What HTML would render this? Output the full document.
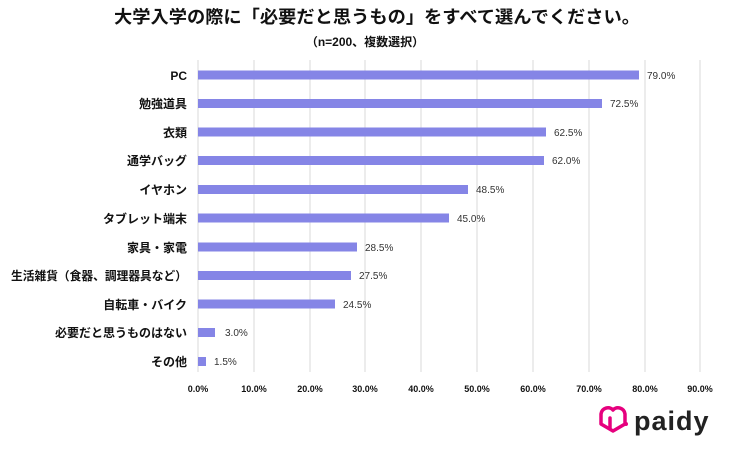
<!DOCTYPE html>
<html><head><meta charset="utf-8"><style>
body{margin:0;background:#fff;width:748px;height:450px;overflow:hidden;font-family:"Liberation Sans","Noto Sans CJK JP",sans-serif;}
</style></head><body>
<svg width="748" height="450" xmlns="http://www.w3.org/2000/svg" font-family="Liberation Sans, Noto Sans CJK JP, sans-serif">
<text x="377" y="23" text-anchor="middle" font-size="17.5" font-weight="bold" fill="#111" textLength="526" lengthAdjust="spacingAndGlyphs">大学入学の際に「必要だと思うもの」をすべて選んでください。</text>
<text x="365" y="46" text-anchor="middle" font-size="12" font-weight="bold" fill="#111">（n=200、複数選択）</text>
<g stroke="#d9d9d9" stroke-width="1">
<line x1="198" y1="60" x2="198" y2="372"/><line x1="254" y1="60" x2="254" y2="372"/><line x1="310" y1="60" x2="310" y2="372"/><line x1="365" y1="60" x2="365" y2="372"/><line x1="421" y1="60" x2="421" y2="372"/><line x1="477" y1="60" x2="477" y2="372"/><line x1="533" y1="60" x2="533" y2="372"/><line x1="589" y1="60" x2="589" y2="372"/><line x1="645" y1="60" x2="645" y2="372"/><line x1="700" y1="60" x2="700" y2="372"/>
</g>
<g fill="#8585e6">
<rect x="198" y="70.5" width="441" height="9"/>
<rect x="198" y="99" width="404" height="9"/>
<rect x="198" y="127.5" width="348" height="9"/>
<rect x="198" y="156" width="346" height="9"/>
<rect x="198" y="185" width="270" height="9"/>
<rect x="198" y="213.5" width="251" height="9"/>
<rect x="198" y="242.5" width="159" height="9"/>
<rect x="198" y="271" width="153" height="9"/>
<rect x="198" y="299.5" width="137" height="9"/>
<rect x="198" y="328" width="17" height="9"/>
<rect x="198" y="357" width="8" height="9"/>
</g>
<g font-size="10" fill="#333">
<text x="647" y="79">79.0%</text><text x="610" y="107">72.5%</text><text x="554" y="136">62.5%</text><text x="552" y="164">62.0%</text><text x="476" y="193">48.5%</text><text x="457" y="222">45.0%</text><text x="365" y="251">28.5%</text><text x="359" y="279">27.5%</text><text x="343" y="308">24.5%</text><text x="225" y="336">3.0%</text><text x="214" y="365">1.5%</text>
</g>
<g font-size="12" font-weight="bold" fill="#111" text-anchor="end">
<text x="187" y="80">PC</text><text x="187" y="108">勉強道具</text><text x="187" y="137">衣類</text><text x="187" y="165">通学バッグ</text><text x="187" y="194">イヤホン</text><text x="187" y="223">タブレット端末</text><text x="187" y="252">家具・家電</text><text x="187" y="280" textLength="176" lengthAdjust="spacingAndGlyphs">生活雑貨（食器、調理器具など）</text><text x="187" y="309">自転車・バイク</text><text x="187" y="337">必要だと思うものはない</text><text x="187" y="366">その他</text>
</g>
<g font-size="9" font-weight="bold" fill="#111" text-anchor="middle">
<text x="198" y="392">0.0%</text><text x="254" y="392">10.0%</text><text x="310" y="392">20.0%</text><text x="365" y="392">30.0%</text><text x="421" y="392">40.0%</text><text x="477" y="392">50.0%</text><text x="533" y="392">60.0%</text><text x="589" y="392">70.0%</text><text x="645" y="392">80.0%</text><text x="700" y="392">90.0%</text>
</g>
<g fill="none" stroke="#e6007e" stroke-width="3.5" stroke-linejoin="round" stroke-linecap="round">
<path d="M601 414 a7 7 0 0 1 12 -4 a7 7 0 0 1 12 4 l0 10 l-12 7 l-12 -7 z"/>
<line x1="610" y1="418" x2="610" y2="428"/>
</g>
<circle cx="626" cy="424" r="2" fill="#e6007e"/>
<text x="634" y="430" font-size="27" font-weight="bold" fill="#222" letter-spacing="1">paidy</text>
</svg>
</body></html>
